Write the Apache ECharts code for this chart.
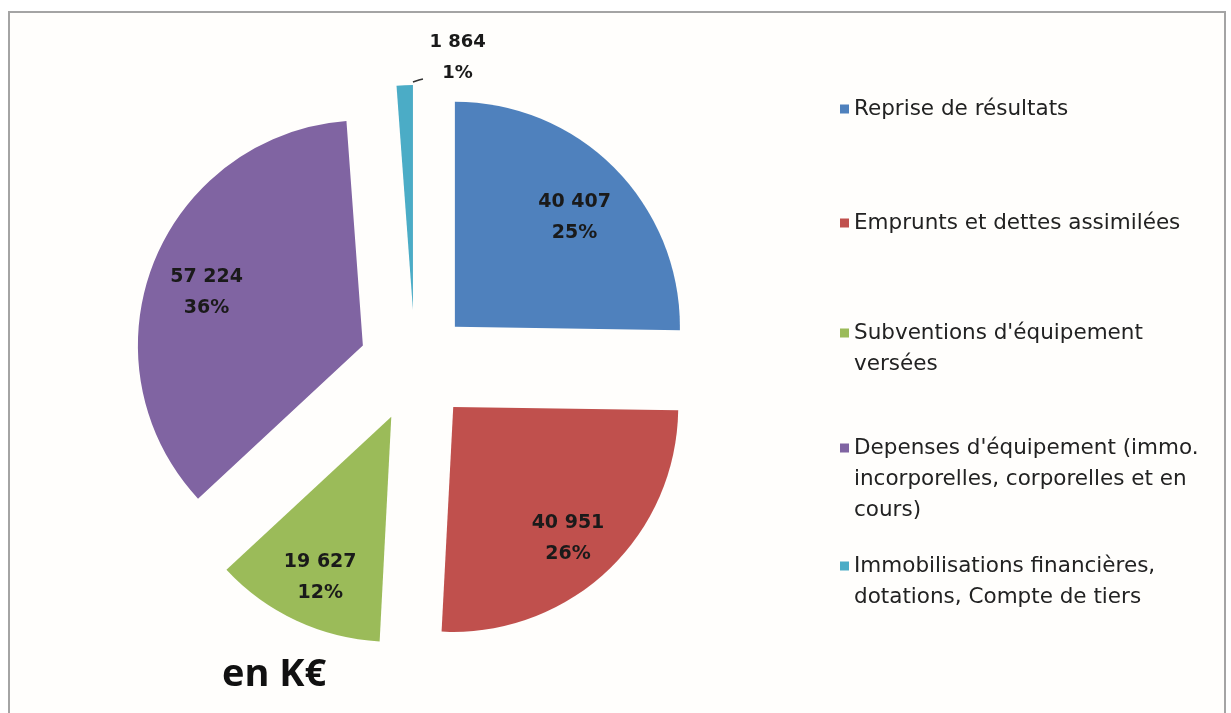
<!DOCTYPE html>
<html>
<head>
<meta charset="utf-8">
<title>Répartition en K€</title>
<script src="https://cdn.jsdelivr.net/npm/echarts@6/dist/echarts.min.js"></script>
<style>
  html, body { margin: 0; padding: 0; background: #fff; }
  .frame {
    position: absolute; left: 8px; top: 11px;
    width: 1214px; height: 720px;
    border: 2px solid #a4a4a4; border-bottom: none;
    background: #fffefc;
  }
  #chart { position: absolute; left: 0; top: 0; width: 1231px; height: 713px; }
</style>
</head>
<body>
<div class="frame"></div>
<div id="chart"></div>
<script>
// données (K€)
const names = [
  'Reprise de résultats',
  'Emprunts et dettes assimilées',
  "Subventions d'équipement versées",
  "Depenses d'équipement (immo. incorporelles, corporelles et en cours)",
  'Immobilisations financières, dotations, Compte de tiers'
];
const values = [40407, 40951, 19627, 57224, 1864];
const colors = ['#4F81BD', '#C0504D', '#9BBB59', '#8064A2', '#4BACC6'];

// texte de la légende, coupé comme dans l'original
const legendLines = [
  ['Reprise de résultats'],
  ['Emprunts et dettes assimilées'],
  ["Subventions d'équipement", 'versées'],
  ["Depenses d'équipement (immo.", 'incorporelles, corporelles et en', 'cours)'],
  ['Immobilisations financières,', 'dotations, Compte de tiers']
];
const legendFirstLineY = [109, 223, 333, 448, 566];

const total = values.reduce((a, b) => a + b, 0);
const fmtNum = v => String(v).replace(/\B(?=(\d{3})+(?!\d))/g, ' ');
const isSmall = v => v / total < 0.02;

const CENTER = [415, 366];
const RADIUS = 225;
const OFFSET = 56;
const LEGEND_LH = 31;

// bout de l'arc (fin) d'une part, avant le détachement
function arcEnd(i) {
  const before = values.slice(0, i).reduce((a, b) => a + b, 0);
  const end = (before + values[i]) / total * 2 * Math.PI;
  return [CENTER[0] + RADIUS * Math.sin(end), CENTER[1] - RADIUS * Math.cos(end)];
}

const labelStyle = {
  fontFamily: 'DejaVu Sans',
  fontWeight: 'bold',
  fontSize: 19,
  lineHeight: 31,
  color: '#1a1a1a',
  formatter: p => fmtNum(p.value) + '\n' + Math.round(p.percent) + '%'
};

const chart = echarts.init(document.getElementById('chart'));

const legends = names.map((n, i) => {
  const k = legendLines[i].length;
  // lignes vides devant : le carré reste en face de la première ligne
  const text = new Array(k - 1).fill('').concat(legendLines[i]).join('\n');
  return {
    orient: 'vertical',
    left: 840,
    top: legendFirstLineY[i] - (k - 1) * LEGEND_LH - LEGEND_LH / 2,
    padding: 0,
    itemWidth: 9,
    itemHeight: 9,
    itemGap: 0,
    icon: 'rect',
    selectedMode: false,
    data: [n],
    formatter: () => text,
    textStyle: {
      fontFamily: 'DejaVu Sans',
      fontSize: 21.5,
      lineHeight: LEGEND_LH,
      color: '#222'
    }
  };
});

chart.setOption({
  animation: false,
  title: {
    text: 'en K€',
    left: 222,
    top: 656,
    padding: 0,
    textStyle: { fontFamily: 'Open Sans', fontWeight: 'bold', fontSize: 38, color: '#111' }
  },
  legend: legends,
  series: [
    {
      name: 'montants',
      type: 'pie',
      center: CENTER,
      radius: RADIUS,
      startAngle: 90,
      clockwise: true,
      selectedMode: 'multiple',
      selectedOffset: OFFSET,
      avoidLabelOverlap: false,
      emphasis: { disabled: true },
      label: { show: false },
      labelLine: { show: false },
      data: names.map((n, i) => ({
        name: n,
        value: values[i],
        selected: true,
        itemStyle: { color: colors[i] },
        label: isSmall(values[i])
          ? Object.assign({ show: true, position: 'outside' }, labelStyle, { fontSize: 18, lineHeight: 31 })
          : { show: false },
        labelLine: isSmall(values[i])
          ? { show: true, length: 4, length2: 4, lineStyle: { color: '#333', width: 1.5 } }
          : { show: false }
      })),
      labelLayout: p => {
        if (!isSmall(values[p.dataIndex])) return;
        const e = arcEnd(p.dataIndex);
        // repère local de la part (le détachement est ajouté ensuite)
        return {
          dx: 62,
          dy: -23,
          align: 'center',
          labelLinePoints: [[e[0], e[1] - 3], [e[0] + 6, e[1] - 5], [e[0] + 10, e[1] - 6]]
        };
      }
    },
    {
      // série transparente plus grande : place les étiquettes vers 0,7 r
      name: 'etiquettes',
      type: 'pie',
      center: CENTER,
      radius: 330,
      startAngle: 90,
      clockwise: true,
      silent: true,
      selectedMode: 'multiple',
      selectedOffset: OFFSET,
      avoidLabelOverlap: false,
      itemStyle: { color: 'rgba(0,0,0,0)', borderWidth: 0 },
      label: Object.assign({ show: true, position: 'inside' }, labelStyle),
      labelLine: { show: false },
      labelLayout: () => ({ dy: 9 }),
      data: names.map((n, i) => ({
        name: n,
        value: values[i],
        selected: true,
        label: { show: !isSmall(values[i]) }
      }))
    }
  ]
});
</script>
</body>
</html>
